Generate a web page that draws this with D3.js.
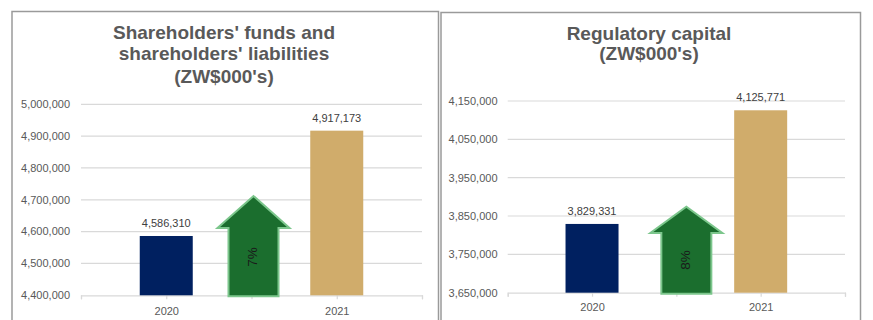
<!DOCTYPE html>
<html>
<head>
<meta charset="utf-8">
<script src="https://cdn.jsdelivr.net/npm/d3@7"></script>
<style>
  html, body { margin: 0; padding: 0; background: #ffffff; }
  svg { display: block; }
  text { font-family: "Liberation Sans", Arial, sans-serif; }
</style>
</head>
<body>
<svg id="chart" width="873" height="320"></svg>
<script>
// ---- data ----
const years = ["2020", "2021"];
const fundsValues = [4586310, 4917173];
const capitalValues = [3829331, 4125771];
const fundsTicks = [4400000, 4500000, 4600000, 4700000, 4800000, 4900000, 5000000];
const capitalTicks = [3650000, 3750000, 3850000, 3950000, 4050000, 4150000];
const fundsTitle = ["Shareholders' funds and", "shareholders' liabilities", "(ZW$000's)"];
const capitalTitle = ["Regulatory capital", "(ZW$000's)"];
const growthLabels = ["7%", "8%"];

const barColors = ["#002060", "#D0AC6B"];
const fmt = d3.format(",");
const svg = d3.select("#chart");

function drawPanel(cfg) {
  const g = svg.append("g");
  // panel border (open at the bottom)
  g.append("path")
    .attr("d", `M${cfg.box[0]},320 V${cfg.box[1]} H${cfg.box[2]} V320`)
    .attr("fill", "none").attr("stroke", "#9a9a9a").attr("stroke-width", 1.5);

  // title
  const t = g.append("text").attr("text-anchor", "middle")
    .attr("font-weight", "bold").attr("font-size", 19).attr("fill", "#595959");
  cfg.title.forEach((line, i) => {
    t.append("tspan").attr("x", cfg.titleX).attr("y", cfg.titleY[i]).text(line);
  });

  const y = d3.scaleLinear().domain(d3.extent(cfg.ticks)).range(cfg.yRange);
  const x = d3.scalePoint().domain(["s", years[0], "m", years[1], "e"]).range(cfg.xRange);

  // gridlines
  g.append("g").selectAll("line").data(cfg.ticks.slice(1)).join("line")
    .attr("x1", cfg.xRange[0]).attr("x2", cfg.xRange[1])
    .attr("y1", d => y(d)).attr("y2", d => y(d))
    .attr("stroke", "#d9d9d9").attr("stroke-width", 1.2);

  // y tick labels
  g.append("g").selectAll("text").data(cfg.ticks).join("text")
    .attr("x", cfg.labelRight).attr("y", d => y(d)).attr("dy", "0.35em")
    .attr("text-anchor", "end").attr("font-size", 11).attr("fill", "#595959")
    .text(d => fmt(d));

  // x axis line + ticks
  const xAxis = d3.axisBottom(x).tickSize(4).tickFormat(d => years.includes(d) ? d : "");
  const ax = g.append("g").attr("transform", `translate(0,${cfg.yRange[0]})`).call(xAxis);
  ax.select(".domain").attr("stroke", "#d9d9d9").attr("stroke-width", 1.2);
  ax.selectAll(".tick line").attr("stroke", "#d9d9d9").attr("stroke-width", 1.2);
  ax.selectAll(".tick text").attr("font-size", 11).attr("fill", "#595959")
    .attr("font-family", "Liberation Sans, Arial, sans-serif").attr("dy", cfg.catDy);

  // bars
  const bw = 53;
  g.append("g").selectAll("rect").data(cfg.values).join("rect")
    .attr("x", (d, i) => x(years[i]) - bw / 2)
    .attr("width", bw)
    .attr("y", d => y(d))
    .attr("height", d => y.range()[0] - y(d))
    .attr("fill", (d, i) => barColors[i]);

  // value labels
  g.append("g").selectAll("text").data(cfg.values).join("text")
    .attr("x", (d, i) => x(years[i]))
    .attr("y", d => y(d) - 9)
    .attr("text-anchor", "middle").attr("font-size", 11).attr("fill", "#404040")
    .text(d => fmt(d));

  // growth arrow
  const cx = x("m") + cfg.arrowShift;
  const bodyW = 50, headW = 72;
  const base = y.range()[0] + 1;
  const pts = [
    [cx - bodyW / 2, base], [cx - bodyW / 2, cfg.headBase], [cx - headW / 2, cfg.headBase],
    [cx, cfg.tip], [cx + headW / 2, cfg.headBase], [cx + bodyW / 2, cfg.headBase],
    [cx + bodyW / 2, base]
  ];
  g.append("path").attr("d", d3.line()(pts) + "Z")
    .attr("fill", "#1B6E2E").attr("stroke", "#7CC68C").attr("stroke-width", 2)
    .attr("stroke-linejoin", "miter");
  g.append("text")
    .attr("transform", `translate(${cx - 1},${cfg.labelCy}) rotate(-90)`)
    .attr("text-anchor", "middle").attr("dy", "0.35em")
    .attr("font-size", 13.5).attr("fill", "#1a1a1a")
    .text(cfg.growth);
}

drawPanel({
  box: [12, 11.5, 438.5],
  title: fundsTitle, titleX: 224, titleY: [38.5, 60, 83],
  ticks: fundsTicks, values: fundsValues,
  yRange: [295.3, 104.3], xRange: [81, 422], labelRight: 70, catDy: 13,
  arrowShift: 2, tip: 196, headBase: 228, labelCy: 257, growth: growthLabels[0]
});
drawPanel({
  box: [441, 12.5, 860.5],
  title: capitalTitle, titleX: 649, titleY: [40, 60],
  ticks: capitalTicks, values: capitalValues,
  yRange: [292.7, 101], xRange: [507.7, 845], labelRight: 497.5, catDy: 11,
  arrowShift: 10, tip: 206.7, headBase: 233, labelCy: 260, growth: growthLabels[1]
});
</script>
</body>
</html>
